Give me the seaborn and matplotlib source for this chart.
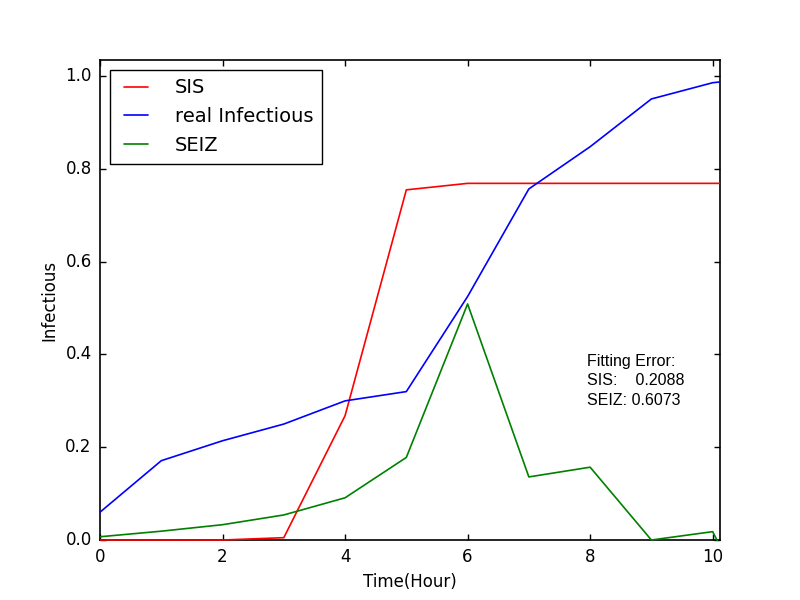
import numpy as np
import pandas as pd
import matplotlib
matplotlib.use('Agg')
import matplotlib.pyplot as plt
from matplotlib.transforms import Bbox, TransformedBbox
import seaborn as sns

# ── Data ──────────────────────────────────────────────────────
hours = [0, 1, 2, 3, 4, 5, 6, 7, 8, 9, 10, 11]
sis = [0.0, 0.0, 0.0, 0.005, 0.268, 0.755, 0.769, 0.769, 0.769, 0.769, 0.769, 0.769]
real_infectious = [0.060, 0.171, 0.214, 0.250, 0.300, 0.320, 0.525, 0.757, 0.848, 0.951, 0.986, 1.0]
seiz = [0.007, 0.019, 0.033, 0.054, 0.091, 0.178, 0.509, 0.136, 0.157, 0.0, 0.018, -0.24]

fit_err_sis = 0.2088
fit_err_seiz = 0.6073

# ── Style ─────────────────────────────────────────────────────
plt.style.use('classic')
sns.set_style('ticks', {'xtick.direction': 'in', 'ytick.direction': 'in',
                        'text.color': 'black', 'axes.labelcolor': 'black',
                        'xtick.color': 'black', 'ytick.color': 'black',
                        'axes.edgecolor': 'black'})
plt.rcParams['font.family'] = ['DejaVu Sans']
plt.rcParams['xtick.top'] = True
plt.rcParams['ytick.right'] = True

fig, ax = plt.subplots(figsize=(8, 6), dpi=100, facecolor='white')
fig.subplots_adjust(left=0.125, right=0.9, bottom=0.1, top=0.9)

sns.lineplot(x=hours, y=sis, color='#FF0000', lw=1.2, label='SIS', ax=ax, zorder=3)
sns.lineplot(x=hours, y=real_infectious, color='#0000FF', lw=1.2,
             label='real Infectious', ax=ax, zorder=3)
sns.lineplot(x=hours, y=seiz, color='#008000', lw=1.2, label='SEIZ', ax=ax, zorder=3)

ax.set_xlim(0, 10.12)
ax.set_ylim(0, 1.035)

# let lines sitting on y=0 show on top of the bottom spine
clip = TransformedBbox(Bbox([[0, -0.003], [1, 1]]), ax.transAxes)
for ln in ax.get_lines():
    ln.set_clip_box(clip)

ax.set_xticks([0, 2, 4, 6, 8, 10])
ax.set_yticks([0.0, 0.2, 0.4, 0.6, 0.8, 1.0])
ax.tick_params(which='both', direction='in', top=True, right=True,
               length=4, width=1, labelsize=12, pad=6, colors='black')
for s in ax.spines.values():
    s.set_visible(True)
    s.set_linewidth(1.2)
    s.set_color('black')

ax.set_xlabel('Time(Hour)', fontsize=12, color='black')
ax.set_ylabel('Infectious', fontsize=12, color='black')

leg = ax.legend(loc='upper left', fontsize=14, frameon=True, fancybox=False,
                handlelength=1.8, labelspacing=0.5, borderpad=0.45,
                handletextpad=1.1, borderaxespad=0.5)
leg.get_frame().set_edgecolor('black')
leg.get_frame().set_linewidth(1.0)
leg.set_zorder(5)
for t in leg.get_texts():
    t.set_color('black')

ax.text(7.95, 0.343,
        'Fitting Error:\nSIS:    %.4f\nSEIZ: %.4f' % (fit_err_sis, fit_err_seiz),
        family=['Liberation Sans', 'DejaVu Sans'], fontsize=11.5, color='black',
        ha='left', va='center', linespacing=1.38)

plt.savefig('out.png', dpi=100, facecolor='white')
